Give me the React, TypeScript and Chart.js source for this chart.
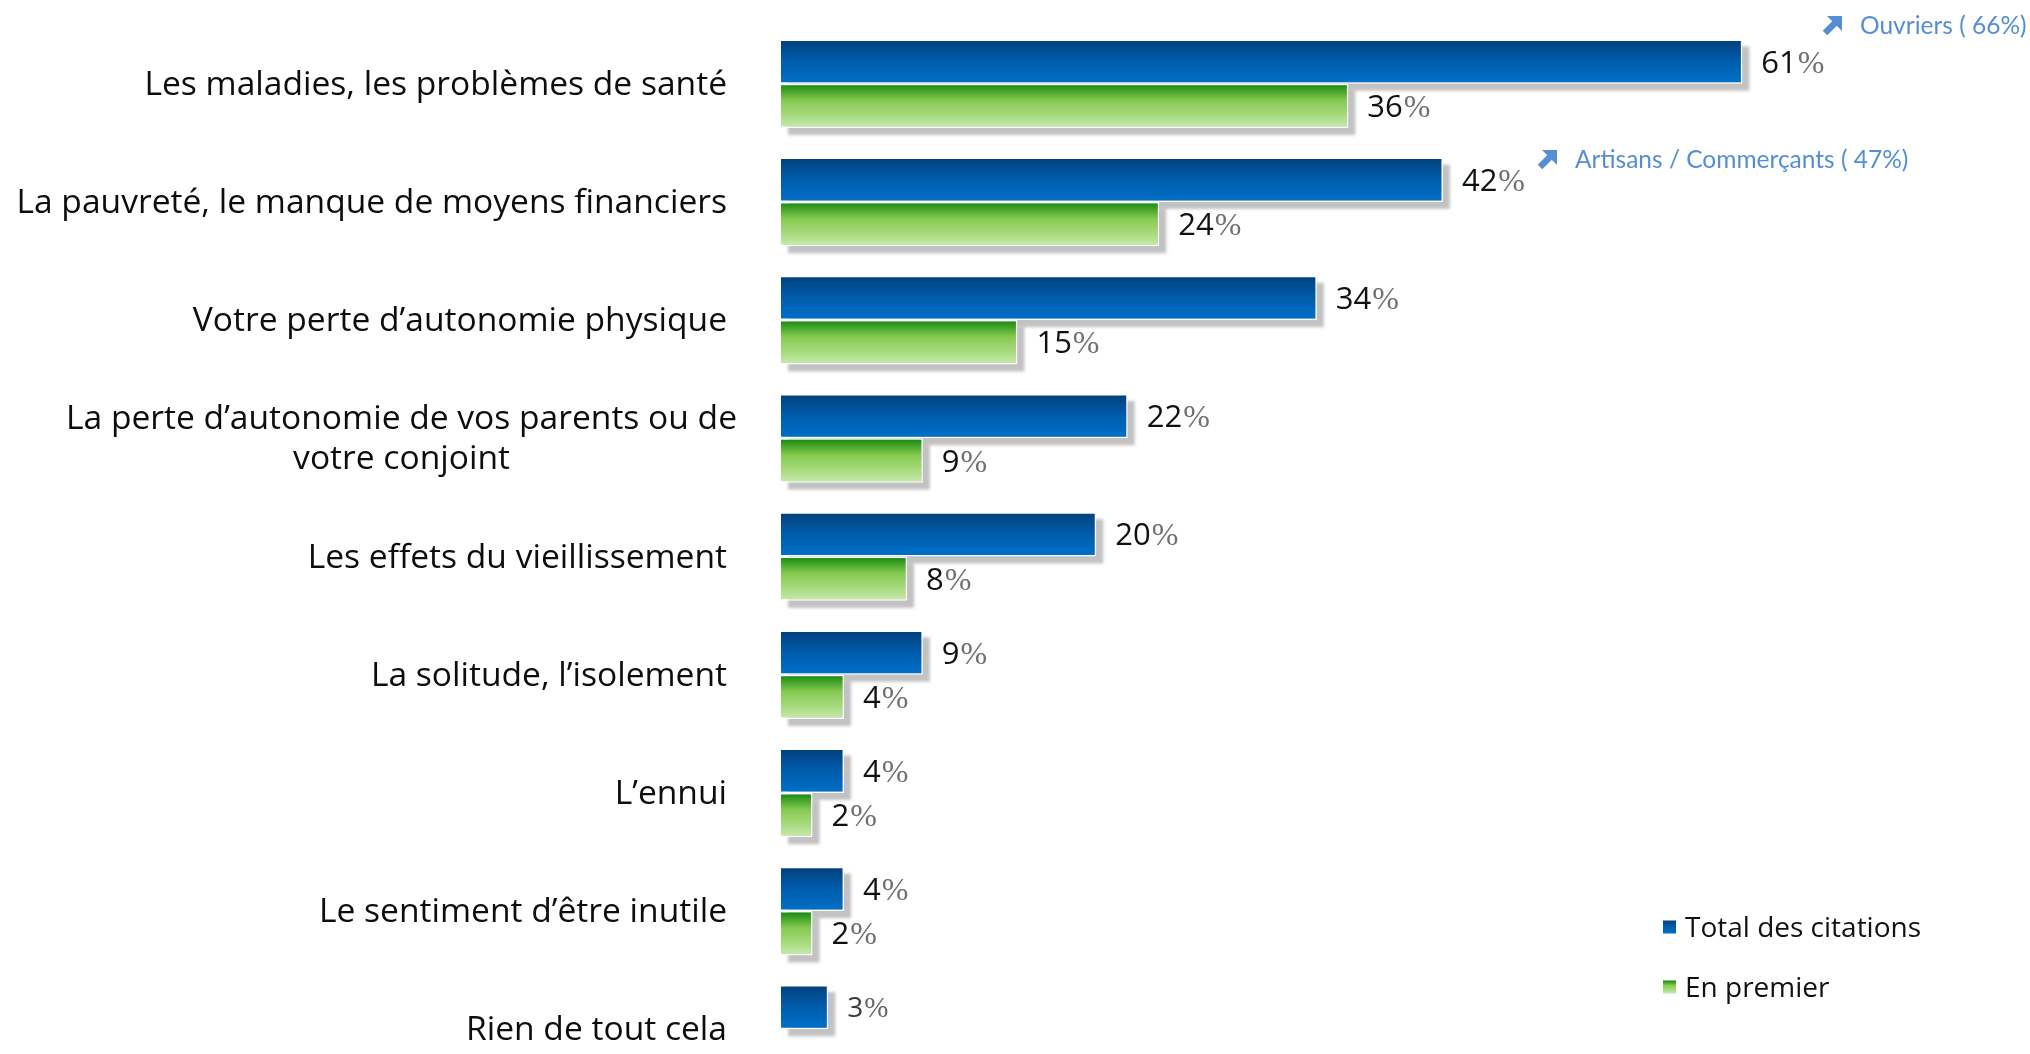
import React, { useEffect, useRef } from "react";
import { Chart, registerables } from "chart.js";

Chart.register(...registerables);

// ---------------- DATA ----------------
const categories: (string | string[])[] = [
  "Les maladies, les problèmes de santé",
  "La pauvreté, le manque de moyens financiers",
  "Votre perte d’autonomie physique",
  ["La perte d’autonomie de vos parents ou de", "votre conjoint"],
  "Les effets du vieillissement",
  "La solitude, l’isolement",
  "L’ennui",
  "Le sentiment d’être inutile",
  "Rien de tout cela",
];
const totalCitations: (number | null)[] = [61, 42, 34, 22, 20, 9, 4, 4, 3];
const enPremier: (number | null)[] = [36, 24, 15, 9, 8, 4, 2, 2, null];
const seriesLabels = ["Total des citations", "En premier"];
const annotationTexts = ["Ouvriers ( 66%)", "Artisans / Commerçants ( 47%)"];

// ---------------- STYLE / LAYOUT ----------------
const W = 2030;
const H_VIEW = 1054;
const H_CANVAS = 1090;
const AXIS_MAX = 70;
const MUTED_VALUE_INDEX = 8;
const LABEL_FONT = '33.6px "Open Sans"';
const LABEL_RIGHT_SINGLE = 727;
const LABEL_RIGHT_MULTI = 737;
const LABEL_LINE_H = 40;
const ANNOT_COLOR = "#558ed5";
const ANNOT_LAYOUT = [
  { arrowX: 1823, textX: 1860, baseline: 34 },
  { arrowX: 1538, textX: 1575, baseline: 168 },
];
const LEGEND_LAYOUT = { x: 1663, textX: 1685, rows: [927, 987] };

const BLUE_STOPS: [number, string][] = [
  [0, "#033f7a"],
  [0.45, "#005aa9"],
  [1, "#0071c9"],
];
const GREEN_STOPS: [number, string][] = [
  [0, "#12870d"],
  [0.38, "#86ca50"],
  [0.7, "#a6da7c"],
  [1, "#c8eab0"],
];
const STOPS = [BLUE_STOPS, GREEN_STOPS];

function grad(ctx: CanvasRenderingContext2D, top: number, bottom: number, stops: [number, string][]) {
  const g = ctx.createLinearGradient(0, top, 0, bottom);
  stops.forEach(([o, c]) => g.addColorStop(o, c));
  return g;
}

const barStylePlugin = {
  id: "barStyle",
  beforeDatasetsDraw(chart: any) {
    const ctx: CanvasRenderingContext2D = chart.ctx;
    // shadows
    ctx.save();
    ctx.fillStyle = "rgba(0,0,0,0.24)";
    (ctx as any).filter = "blur(1.5px)";
    chart.data.datasets.forEach((ds: any, di: number) => {
      const meta = chart.getDatasetMeta(di);
      meta.data.forEach((el: any, i: number) => {
        if (ds.data[i] == null) return;
        const left = Math.min(el.x, el.base);
        const right = Math.max(el.x, el.base);
        const top = el.y - el.height / 2;
        if (![left, right, top].every(isFinite)) return;
        ctx.fillRect(left + 7, top + 7, right - left, el.height);
      });
    });
    ctx.restore();
    // gradients
    chart.data.datasets.forEach((ds: any, di: number) => {
      const meta = chart.getDatasetMeta(di);
      meta.data.forEach((el: any, i: number) => {
        if (ds.data[i] == null) return;
        const top = el.y - el.height / 2;
        const bottom = el.y + el.height / 2;
        if (!isFinite(top) || !isFinite(bottom)) return;
        el.options = { ...el.options, backgroundColor: grad(ctx, top, bottom, STOPS[di]) };
      });
    });
  },
};

const labelsPlugin = {
  id: "labelsPlugin",
  afterDatasetsDraw(chart: any) {
    const ctx: CanvasRenderingContext2D = chart.ctx;
    const yScale = chart.scales.y;
    ctx.save();
    // category labels
    ctx.font = LABEL_FONT;
    ctx.fillStyle = "#0d0d0d";
    ctx.textBaseline = "alphabetic";
    ctx.textAlign = "center";
    (chart.data.labels as any[]).forEach((lab, i) => {
      const lines: string[] = Array.isArray(lab) ? lab : [lab];
      const c = yScale.getPixelForTick(i);
      const w = Math.max(...lines.map((l) => ctx.measureText(l).width));
      const right = lines.length > 1 ? LABEL_RIGHT_MULTI : LABEL_RIGHT_SINGLE;
      const cx = right - w / 2;
      lines.forEach((l, k) => {
        const y = c + 11 + (k - (lines.length - 1) / 2) * LABEL_LINE_H;
        ctx.fillText(l, cx, y);
      });
    });
    // value labels
    ctx.textAlign = "left";
    chart.data.datasets.forEach((ds: any, di: number) => {
      const meta = chart.getDatasetMeta(di);
      meta.data.forEach((el: any, i: number) => {
        const v = ds.data[i];
        if (v == null) return;
        const muted = i === MUTED_VALUE_INDEX;
        const size = muted ? 28 : 31;
        const x0 = el.x + 19;
        const base = el.y + 0.36 * size;
        ctx.font = `${size}px "Open Sans"`;
        ctx.fillStyle = muted ? "#3c3c3c" : "#111111";
        const s = String(v);
        ctx.fillText(s, x0, base);
        const w = ctx.measureText(s).width;
        ctx.font = `${size + 1}px "Liberation Sans Narrow"`;
        ctx.fillStyle = muted ? "#666666" : "#707070";
        ctx.fillText("%", x0 + w + 1, base);
      });
    });
    // annotations
    ctx.fillStyle = ANNOT_COLOR;
    ctx.strokeStyle = ANNOT_COLOR;
    ctx.font = "24.5px Lato";
    annotationTexts.forEach((t, k) => {
      const a = ANNOT_LAYOUT[k];
      const top = a.baseline - 17;
      // arrow
      ctx.lineWidth = 6.5;
      ctx.lineCap = "butt";
      ctx.beginPath();
      ctx.moveTo(a.arrowX + 2, top + 16);
      ctx.lineTo(a.arrowX + 12, top + 6);
      ctx.stroke();
      ctx.beginPath();
      ctx.moveTo(a.arrowX + 4, top - 1);
      ctx.lineTo(a.arrowX + 19, top - 1);
      ctx.lineTo(a.arrowX + 19, top + 14);
      ctx.closePath();
      ctx.fill();
      ctx.fillText(t, a.textX, a.baseline);
    });
    // legend
    ctx.font = '28px "Open Sans"';
    chart.data.datasets.forEach((ds: any, di: number) => {
      const cy = LEGEND_LAYOUT.rows[di];
      ctx.fillStyle = grad(ctx, cy - 6.5, cy + 6.5, STOPS[di]);
      ctx.fillRect(LEGEND_LAYOUT.x, cy - 6.5, 13, 13);
      ctx.fillStyle = "#111111";
      ctx.fillText(ds.label, LEGEND_LAYOUT.textX, cy + 10);
    });
    ctx.restore();
  },
};

export default function App() {
  const ref = useRef<HTMLCanvasElement | null>(null);
  useEffect(() => {
    if (!ref.current) return;
    const chart = new Chart(ref.current, {
      type: "bar",
      data: {
        labels: categories as any,
        datasets: [
          {
            label: seriesLabels[0],
            data: totalCitations,
            backgroundColor: "#005aa9",
            borderColor: "rgba(255,255,255,0.95)",
            borderWidth: 1.5,
            categoryPercentage: 0.75,
            barPercentage: 1,
          },
          {
            label: seriesLabels[1],
            data: enPremier,
            backgroundColor: "#86ca50",
            borderColor: "rgba(255,255,255,0.95)",
            borderWidth: 1.5,
            categoryPercentage: 0.75,
            barPercentage: 1,
          },
        ],
      },
      options: {
        indexAxis: "y",
        responsive: false,
        animation: false,
        devicePixelRatio: 1,
        layout: { padding: { left: 781, right: W - (781 + AXIS_MAX * 15.76), top: 24.6, bottom: 1.6 } },
        scales: {
          x: { display: false, min: 0, max: AXIS_MAX },
          y: { display: false },
        },
        plugins: { legend: { display: false }, tooltip: { enabled: false } },
      },
      plugins: [barStylePlugin, labelsPlugin],
    } as any);
    return () => chart.destroy();
  }, []);
  return (
    <div
      style={{
        position: "fixed",
        left: 0,
        top: 0,
        width: W,
        height: H_VIEW,
        overflow: "hidden",
        background: "#ffffff",
      }}
    >
      <canvas ref={ref} width={W} height={H_CANVAS} style={{ display: "block", width: W, height: H_CANVAS }} />
    </div>
  );
}
